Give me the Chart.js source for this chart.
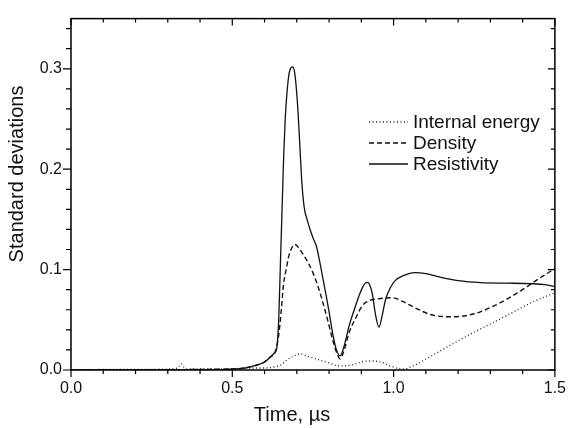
<!DOCTYPE html>
<html>
<head>
<meta charset="utf-8">
<script src="https://cdn.jsdelivr.net/npm/chart.js@4/dist/chart.umd.min.js"></script>
<style>
  html, body { margin: 0; padding: 0; background: #fff; }
  #wrap { width: 575px; height: 428px; }
</style>
</head>
<body>
<div id="wrap"><canvas id="stdChart" width="575" height="428"></canvas></div>
<script>
// values
const seriesLabels = ['Internal energy', 'Density', 'Resistivity'];

const energyT = [0, 0.1, 0.2, 0.3, 0.33, 0.342, 0.35, 0.36, 0.4, 0.5, 0.55, 0.6, 0.63, 0.65, 0.669, 0.69, 0.71, 0.73, 0.76, 0.8, 0.832, 0.87, 0.9, 0.934, 0.96, 0.99, 1.03, 1.06, 1.117, 1.2, 1.27, 1.35, 1.42, 1.5];
const energyV = [0, 0.0005, 0.0005, 0.001, 0.002, 0.006, 0.003, 0.001, 0.001, 0.001, 0.002, 0.002, 0.003, 0.005, 0.010, 0.014, 0.016, 0.014, 0.011, 0.007, 0.004, 0.005, 0.008, 0.009, 0.008, 0.004, 0.001, 0.004, 0.014, 0.029, 0.041, 0.054, 0.066, 0.077];

const densityT = [0, 0.5, 0.54, 0.577, 0.6, 0.618, 0.633, 0.644, 0.652, 0.659, 0.667, 0.674, 0.685, 0.695, 0.705, 0.72, 0.735, 0.751, 0.766, 0.781, 0.797, 0.812, 0.825, 0.834, 0.845, 0.863, 0.883, 0.903, 0.925, 0.954, 0.995, 1.03, 1.066, 1.117, 1.178, 1.25, 1.331, 1.38, 1.423, 1.46, 1.5];
const densityV = [0, 0.001, 0.002, 0.005, 0.008, 0.013, 0.018, 0.035, 0.06, 0.086, 0.10, 0.112, 0.122, 0.125, 0.122, 0.115, 0.107, 0.096, 0.083, 0.067, 0.048, 0.029, 0.016, 0.011, 0.018, 0.038, 0.052, 0.064, 0.069, 0.071, 0.072, 0.068, 0.062, 0.055, 0.053, 0.056, 0.067, 0.076, 0.085, 0.093, 0.101];

const resistT = [0, 0.45, 0.5, 0.54, 0.577, 0.6, 0.618, 0.633, 0.638, 0.644, 0.649, 0.654, 0.659, 0.664, 0.67, 0.675, 0.68, 0.687, 0.693, 0.70, 0.705, 0.71, 0.715, 0.72, 0.725, 0.73, 0.74, 0.751, 0.761, 0.771, 0.781, 0.791, 0.80, 0.812, 0.822, 0.834, 0.845, 0.863, 0.878, 0.893, 0.905, 0.915, 0.921, 0.928, 0.934, 0.944, 0.955, 0.965, 0.975, 0.99, 1.005, 1.03, 1.066, 1.10, 1.15, 1.2, 1.27, 1.35, 1.423, 1.47, 1.5];
const resistV = [0, 0, 0.001, 0.002, 0.005, 0.008, 0.013, 0.018, 0.022, 0.051, 0.104, 0.157, 0.21, 0.25, 0.278, 0.293, 0.300, 0.302, 0.297, 0.275, 0.25, 0.22, 0.19, 0.17, 0.158, 0.152, 0.141, 0.131, 0.123, 0.108, 0.091, 0.074, 0.058, 0.035, 0.021, 0.014, 0.022, 0.045, 0.06, 0.074, 0.083, 0.087, 0.087, 0.083, 0.076, 0.055, 0.0425, 0.055, 0.07, 0.082, 0.089, 0.094, 0.097, 0.096, 0.092, 0.089, 0.087, 0.0865, 0.086, 0.085, 0.083];

const xTicks = [0.0, 0.5, 1.0, 1.5];
const yTicks = [0.0, 0.1, 0.2, 0.3];

const FONT = '"Liberation Sans", Arial, Helvetica, sans-serif';

function toPoints(ts, vs) {
    return ts.map((t, i) => ({ x: t, y: vs[i] }));
}

function isMajor(v, list) {
    return list.some(m => Math.abs(m - v) < 1e-6);
}

// frame, mirrored ticks, axis titles and the legend
const decorations = {
    id: 'decorations',
    afterDraw(chart) {
        const ctx = chart.ctx;
        const a = chart.chartArea;
        const xs = chart.scales.x;
        const ys = chart.scales.y;
        ctx.save();
        ctx.strokeStyle = '#000';
        ctx.lineWidth = 1.5;
        ctx.strokeRect(a.left, a.top, a.right - a.left, a.bottom - a.top);

        ctx.lineWidth = 1.2;
        ctx.beginPath();
        for (let i = 0; i <= 15; i++) {
            const v = i / 10;
            const px = xs.getPixelForValue(v);
            const major = isMajor(v, xTicks);
            ctx.moveTo(px, a.bottom);
            ctx.lineTo(px, a.bottom + (major ? 7 : 4));
            ctx.moveTo(px, a.top);
            ctx.lineTo(px, a.top + (major ? 7 : 4));
        }
        for (let i = 0; i <= 17; i++) {
            const v = i / 50;
            const py = ys.getPixelForValue(v);
            const major = isMajor(v, yTicks);
            ctx.moveTo(a.left, py);
            ctx.lineTo(a.left - (major ? 8 : 5), py);
            ctx.moveTo(a.right, py);
            ctx.lineTo(a.right - (major ? 7 : 4), py);
        }
        ctx.stroke();

        // axis titles
        ctx.fillStyle = '#111';
        ctx.font = '20px ' + FONT;
        ctx.textAlign = 'center';
        ctx.textBaseline = 'middle';
        ctx.fillText('Time, \u00b5s', 292, 415);
        ctx.save();
        ctx.translate(17, 174);
        ctx.rotate(-Math.PI / 2);
        ctx.fillText('Standard deviations', 0, 0);
        ctx.restore();

        // legend
        ctx.font = '19px ' + FONT;
        ctx.textAlign = 'left';
        ctx.textBaseline = 'alphabetic';
        chart.data.datasets.forEach((ds, i) => {
            const base = 128 + i * 21;
            const ly = base - 6;
            ctx.save();
            ctx.strokeStyle = ds.borderColor;
            ctx.lineWidth = ds.borderWidth;
            ctx.setLineDash(ds.borderDash || []);
            ctx.beginPath();
            ctx.moveTo(369, ly);
            ctx.lineTo(408, ly);
            ctx.stroke();
            ctx.restore();
            ctx.fillText(ds.label, 413, base);
        });
        ctx.restore();
    }
};

const ctx = document.getElementById('stdChart');
new Chart(ctx, {
    type: 'scatter',
    data: {
        datasets: [{
            label: seriesLabels[0],
            data: toPoints(energyT, energyV),
            borderColor: '#222',
            borderWidth: 1.3,
            borderDash: [1, 2.5]
        }, {
            label: seriesLabels[1],
            data: toPoints(densityT, densityV),
            borderColor: '#111',
            borderWidth: 1.4,
            borderDash: [5, 3]
        }, {
            label: seriesLabels[2],
            data: toPoints(resistT, resistV),
            borderColor: '#111',
            borderWidth: 1.3
        }]
    },
    options: {
        responsive: false,
        animation: false,
        showLine: true,
        layout: { padding: { top: 5, right: 13, left: 0, bottom: 0 } },
        elements: {
            point: { radius: 0, hoverRadius: 0 },
            line: { cubicInterpolationMode: 'monotone', fill: false }
        },
        plugins: {
            legend: { display: false },
            tooltip: { enabled: false }
        },
        scales: {
            x: {
                type: 'linear',
                min: 0,
                max: 1.5,
                afterFit(scale) { scale.height = 58; },
                afterBuildTicks(scale) { scale.ticks = xTicks.map(v => ({ value: v })); },
                grid: { display: false, drawTicks: false },
                border: { display: false },
                ticks: {
                    padding: 9,
                    color: '#111',
                    font: { family: FONT, size: 16 },
                    callback: v => Number(v).toFixed(1)
                }
            },
            y: {
                type: 'linear',
                min: 0,
                max: 0.35,
                afterFit(scale) { scale.width = 71; },
                afterBuildTicks(scale) { scale.ticks = yTicks.map(v => ({ value: v })); },
                grid: { display: false, drawTicks: false },
                border: { display: false },
                ticks: {
                    padding: 9,
                    color: '#111',
                    font: { family: FONT, size: 16 },
                    callback: v => Number(v).toFixed(1)
                }
            }
        }
    },
    plugins: [decorations]
});
</script>
</body>
</html>
